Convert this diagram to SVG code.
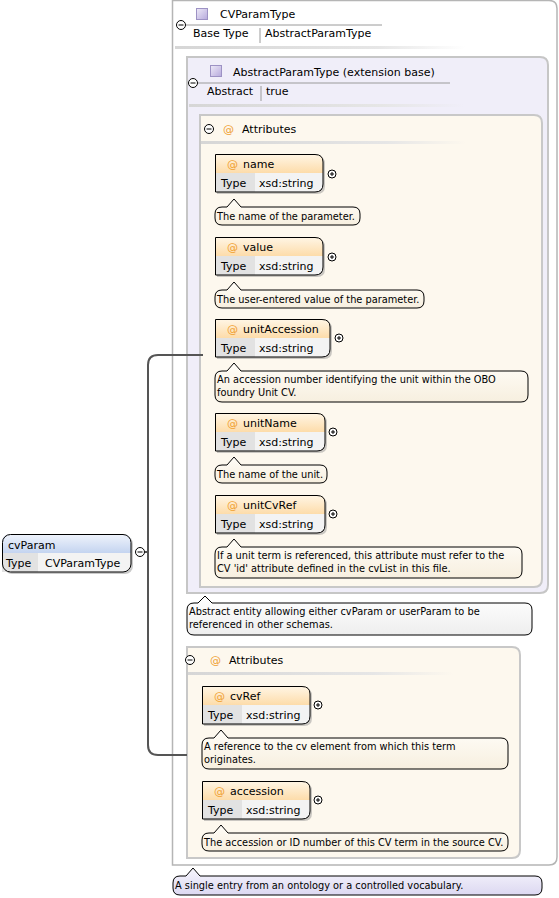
<svg xmlns="http://www.w3.org/2000/svg" width="559" height="898" viewBox="0 0 559 898">
<style>
text{font-family:"DejaVu Sans","Liberation Sans",sans-serif;fill:#000}
.t11{font-size:11px}
.t10{font-size:9.8px}
.at{fill:#f0a030;font-size:11px}
.outline{fill:none;stroke:#000;stroke-width:1}
.shadow{fill:#8a8a8a;opacity:.45}
.ahead{fill:url(#gOrange)}
.tcell{fill:#e2e2e2}
.vcell{fill:#f3f3f3}
.cmt{fill:url(#gCream);stroke:#000;stroke-width:1}
.circ{fill:#fff;stroke:#000;stroke-width:1}
.sign{stroke:#000;stroke-width:1;fill:none}
.conn{fill:none;stroke:#555;stroke-width:2}
.hline{stroke:#9a9a9a;stroke-width:1}
.fade{fill:url(#gFade)}
.sq{fill:url(#gPurple);stroke:#9d92c4;stroke-width:1}
</style>
<defs>
<linearGradient id="gOrange" x1="0" y1="0" x2="0" y2="1"><stop offset="0" stop-color="#fff6e6"/><stop offset="1" stop-color="#fddcaa"/></linearGradient>
<linearGradient id="gBlue" x1="0" y1="0" x2="0" y2="1"><stop offset="0" stop-color="#f0f4fc"/><stop offset="1" stop-color="#c4d4f0"/></linearGradient>
<linearGradient id="gCream" x1="0" y1="0" x2="0" y2="1"><stop offset="0" stop-color="#fffdf8"/><stop offset="1" stop-color="#f7efdf"/></linearGradient>
<linearGradient id="gGray" x1="0" y1="0" x2="0" y2="1"><stop offset="0" stop-color="#ffffff"/><stop offset="1" stop-color="#eeeeee"/></linearGradient>
<linearGradient id="gLav" x1="0" y1="0" x2="0" y2="1"><stop offset="0" stop-color="#f7f6fd"/><stop offset="1" stop-color="#dcd8f1"/></linearGradient>
<linearGradient id="gPurple" x1="0" y1="0" x2="1" y2="1"><stop offset="0" stop-color="#eeeaf8"/><stop offset="1" stop-color="#b6a9dc"/></linearGradient>
<linearGradient id="gFade" x1="0" y1="0" x2="1" y2="0"><stop offset="0" stop-color="#d6d6d6"/><stop offset="0.7" stop-color="#e6e6e6"/><stop offset="1" stop-color="#e6e6e6" stop-opacity="0"/></linearGradient>
</defs>

<!-- CVParamType outer container -->
<g id="CVParamType">
<path d="M172.5 0.5 H549 Q557 0.5 557 8.5 V857 Q557 865 549 865 H172.5 Z" fill="#fff" stroke="#b5b5b5" stroke-width="1.5"/>
<rect class="sq" x="196.5" y="8.5" width="11" height="11"/>
<text class="t11" x="220" y="18">CVParamType</text>
<line class="hline" x1="186" y1="25" x2="382" y2="25"/>
<circle class="circ" cx="181" cy="25" r="4.5"/><line class="sign" x1="178.5" y1="25" x2="183.5" y2="25"/>
<text class="t11" x="193" y="37">Base Type</text>
<line class="hline" x1="260" y1="28" x2="260" y2="43"/>
<text class="t11" x="265" y="37">AbstractParamType</text>
<rect class="fade" x="175" y="46" width="290" height="3"/>
</g>

<g id="AbstractParamType">
<path d="M187 57 H540 Q548 57 548 65 V585 Q548 593 540 593 H187 Z" fill="#f0eef9" stroke="#c6c6c6" stroke-width="2"/>
<rect class="sq" x="210.5" y="65.5" width="11" height="11"/>
<text class="t11" x="233" y="76">AbstractParamType (extension base)</text>
<line class="hline" x1="198" y1="83" x2="450" y2="83"/>
<circle class="circ" cx="193" cy="83" r="4.5"/><line class="sign" x1="190.5" y1="83" x2="195.5" y2="83"/>
<text class="t11" x="207" y="95">Abstract</text>
<line class="hline" x1="261" y1="86" x2="261" y2="101"/>
<text class="t11" x="266" y="95">true</text>
<rect class="fade" x="189" y="104" width="275" height="3"/>
</g>

<g id="Attributes1">
<path d="M200 115 H534 Q542 115 542 123 V579 Q542 587 534 587 H200 Z" fill="#fdf8ee" stroke="#c8c8c8" stroke-width="2"/>
<circle class="circ" cx="209" cy="129" r="4.5"/><line class="sign" x1="206.5" y1="129" x2="211.5" y2="129"/>
<text class="at" x="223" y="133">@</text>
<text class="t11" x="242" y="133">Attributes</text>
<rect class="fade" x="201" y="141" width="265" height="3"/>
</g>

<!-- attribute: name -->
<g id="attr-name">
<path class="shadow" d="M217 156 H317 Q325 156 325 164 V186 Q325 194 317 194 H217 Z"/>
<path class="ahead" d="M215 154 H315 Q323 154 323 162 V173 H215 Z"/>
<rect class="tcell" x="215" y="173" width="40" height="19"/>
<path class="vcell" d="M255 173 H323 V184 Q323 192 315 192 H255 Z"/>
<path class="outline" d="M215.5 154.5 H315 Q323 154.5 323 162 V184 Q323 192 315 192 H215.5 Z"/>
<text class="at" x="227" y="168">@</text>
<text class="t11" x="243" y="168">name</text>
<text class="t11" x="221" y="187">Type</text>
<text class="t11" x="259" y="187">xsd:string</text>
<circle class="circ" cx="332" cy="174" r="4"/><path class="sign" d="M330 174 H334 M332 172 V176"/>
<path class="cmt" d="M222 207 H227 L234 199 L241 207 H353 Q360 207 360 214 V218 Q360 225 353 225 H222 Q215 225 215 218 V214 Q215 207 222 207 Z"/>
<text class="t10" x="217" y="220">The name of the parameter.</text>
</g>

<!-- attribute: value -->
<g id="attr-value">
<path class="shadow" d="M217 239 H317 Q325 239 325 247 V269 Q325 277 317 277 H217 Z"/>
<path class="ahead" d="M215 237 H315 Q323 237 323 245 V256 H215 Z"/>
<rect class="tcell" x="215" y="256" width="40" height="19"/>
<path class="vcell" d="M255 256 H323 V267 Q323 275 315 275 H255 Z"/>
<path class="outline" d="M215.5 237.5 H315 Q323 237.5 323 245 V267 Q323 275 315 275 H215.5 Z"/>
<text class="at" x="227" y="251">@</text>
<text class="t11" x="243" y="251">value</text>
<text class="t11" x="221" y="270">Type</text>
<text class="t11" x="259" y="270">xsd:string</text>
<circle class="circ" cx="332" cy="257" r="4"/><path class="sign" d="M330 257 H334 M332 255 V259"/>
<path class="cmt" d="M222 290 H227 L234 282 L241 290 H417 Q424 290 424 297 V301 Q424 308 417 308 H222 Q215 308 215 301 V297 Q215 290 222 290 Z"/>
<text class="t10" x="217" y="303">The user-entered value of the parameter.</text>
</g>

<!-- attribute: unitAccession -->
<g id="attr-unitAccession">
<path class="shadow" d="M217 321 H324 Q332 321 332 329 V351 Q332 359 324 359 H217 Z"/>
<path class="ahead" d="M215 319 H322 Q330 319 330 327 V338 H215 Z"/>
<rect class="tcell" x="215" y="338" width="40" height="19"/>
<path class="vcell" d="M255 338 H330 V349 Q330 357 322 357 H255 Z"/>
<path class="outline" d="M215.5 319.5 H322 Q330 319.5 330 327 V349 Q330 357 322 357 H215.5 Z"/>
<text class="at" x="227" y="333">@</text>
<text class="t11" x="243" y="333">unitAccession</text>
<text class="t11" x="221" y="352">Type</text>
<text class="t11" x="259" y="352">xsd:string</text>
<circle class="circ" cx="339" cy="338" r="4"/><path class="sign" d="M337 338 H341 M339 336 V340"/>
<path class="cmt" d="M222 371 H227 L234 363 L241 371 H521 Q528 371 528 378 V395 Q528 402 521 402 H222 Q215 402 215 395 V378 Q215 371 222 371 Z"/>
<text class="t10" x="217" y="383">An accession number identifying the unit within the OBO</text>
<text class="t10" x="217" y="396">foundry Unit CV.</text>
</g>

<!-- attribute: unitName -->
<g id="attr-unitName">
<path class="shadow" d="M217 415 H319 Q327 415 327 423 V445 Q327 453 319 453 H217 Z"/>
<path class="ahead" d="M215 413 H317 Q325 413 325 421 V432 H215 Z"/>
<rect class="tcell" x="215" y="432" width="40" height="19"/>
<path class="vcell" d="M255 432 H325 V443 Q325 451 317 451 H255 Z"/>
<path class="outline" d="M215.5 413.5 H317 Q325 413.5 325 421 V443 Q325 451 317 451 H215.5 Z"/>
<text class="at" x="227" y="427">@</text>
<text class="t11" x="243" y="427">unitName</text>
<text class="t11" x="221" y="446">Type</text>
<text class="t11" x="259" y="446">xsd:string</text>
<circle class="circ" cx="333" cy="432" r="4"/><path class="sign" d="M331 432 H335 M333 430 V434"/>
<path class="cmt" d="M222 465 H227 L234 457 L241 465 H320 Q327 465 327 472 V476 Q327 483 320 483 H222 Q215 483 215 476 V472 Q215 465 222 465 Z"/>
<text class="t10" x="217" y="478">The name of the unit.</text>
</g>

<!-- attribute: unitCvRef -->
<g id="attr-unitCvRef">
<path class="shadow" d="M217 497 H319 Q327 497 327 505 V527 Q327 535 319 535 H217 Z"/>
<path class="ahead" d="M215 495 H317 Q325 495 325 503 V514 H215 Z"/>
<rect class="tcell" x="215" y="514" width="40" height="19"/>
<path class="vcell" d="M255 514 H325 V525 Q325 533 317 533 H255 Z"/>
<path class="outline" d="M215.5 495.5 H317 Q325 495.5 325 503 V525 Q325 533 317 533 H215.5 Z"/>
<text class="at" x="227" y="509">@</text>
<text class="t11" x="243" y="509">unitCvRef</text>
<text class="t11" x="221" y="528">Type</text>
<text class="t11" x="259" y="528">xsd:string</text>
<circle class="circ" cx="333" cy="514" r="4"/><path class="sign" d="M331 514 H335 M333 512 V516"/>
<path class="cmt" d="M222 547 H227 L234 539 L241 547 H515 Q522 547 522 554 V571 Q522 578 515 578 H222 Q215 578 215 571 V554 Q215 547 222 547 Z"/>
<text class="t10" x="217" y="559">If a unit term is referenced, this attribute must refer to the</text>
<text class="t10" x="217" y="572">CV 'id' attribute defined in the cvList in this file.</text>
</g>

<g id="comment-abstract">
<path d="M194 603 H198 L205 596 L212 603 H525 Q532 603 532 610 V628 Q532 635 525 635 H194 Q187 635 187 628 V610 Q187 603 194 603 Z" fill="url(#gGray)" stroke="#000" stroke-width="1"/>
<text class="t10" x="189" y="615">Abstract entity allowing either cvParam or userParam to be</text>
<text class="t10" x="189" y="628">referenced in other schemas.</text>
</g>

<g id="Attributes2">
<path d="M187 647 H512 Q520 647 520 655 V850 Q520 858 512 858 H187 Z" fill="#fdf8ee" stroke="#c8c8c8" stroke-width="2"/>
<circle class="circ" cx="190" cy="660" r="4.5"/><line class="sign" x1="187.5" y1="660" x2="192.5" y2="660"/>
<text class="at" x="210" y="664">@</text>
<text class="t11" x="229" y="664">Attributes</text>
<rect class="fade" x="188" y="672" width="265" height="3"/>
</g>

<!-- attribute: cvRef -->
<g id="attr-cvRef">
<path class="shadow" d="M204 688 H304 Q312 688 312 696 V718 Q312 726 304 726 H204 Z"/>
<path class="ahead" d="M202 686 H302 Q310 686 310 694 V705 H202 Z"/>
<rect class="tcell" x="202" y="705" width="40" height="19"/>
<path class="vcell" d="M242 705 H310 V716 Q310 724 302 724 H242 Z"/>
<path class="outline" d="M202.5 686.5 H302 Q310 686.5 310 694 V716 Q310 724 302 724 H202.5 Z"/>
<text class="at" x="214" y="700">@</text>
<text class="t11" x="230" y="700">cvRef</text>
<text class="t11" x="208" y="719">Type</text>
<text class="t11" x="246" y="719">xsd:string</text>
<circle class="circ" cx="318" cy="705" r="4"/><path class="sign" d="M316 705 H320 M318 703 V707"/>
<path class="cmt" d="M209 738 H214 L221 730 L228 738 H501 Q508 738 508 745 V762 Q508 769 501 769 H209 Q202 769 202 762 V745 Q202 738 209 738 Z"/>
<text class="t10" x="204" y="750">A reference to the cv element from which this term</text>
<text class="t10" x="204" y="763">originates.</text>
</g>

<!-- attribute: accession -->
<g id="attr-accession">
<path class="shadow" d="M204 783 H304 Q312 783 312 791 V813 Q312 821 304 821 H204 Z"/>
<path class="ahead" d="M202 781 H302 Q310 781 310 789 V800 H202 Z"/>
<rect class="tcell" x="202" y="800" width="40" height="19"/>
<path class="vcell" d="M242 800 H310 V811 Q310 819 302 819 H242 Z"/>
<path class="outline" d="M202.5 781.5 H302 Q310 781.5 310 789 V811 Q310 819 302 819 H202.5 Z"/>
<text class="at" x="214" y="795">@</text>
<text class="t11" x="230" y="795">accession</text>
<text class="t11" x="208" y="814">Type</text>
<text class="t11" x="246" y="814">xsd:string</text>
<circle class="circ" cx="318" cy="800" r="4"/><path class="sign" d="M316 800 H320 M318 798 V802"/>
<path class="cmt" d="M209 833 H214 L221 825 L228 833 H501 Q508 833 508 840 V844 Q508 851 501 851 H209 Q202 851 202 844 V840 Q202 833 209 833 Z"/>
<text class="t10" x="204" y="846">The accession or ID number of this CV term in the source CV.</text>
</g>

<g id="comment-cvParamType">
<path d="M180 876 H186 L193 868 L200 876 H535 Q542 876 542 883 V888 Q542 895 535 895 H180 Q173 895 173 888 V883 Q173 876 180 876 Z" fill="url(#gLav)" stroke="#000" stroke-width="1"/>
<text class="t10" x="175" y="889">A single entry from an ontology or a controlled vocabulary.</text>
</g>

<!-- connectors -->
<g id="connectors">
<path class="conn" d="M203 355 H158 Q148 355 148 365 V745 Q148 755 158 755 H187"/>
<path class="conn" d="M145 552 H148"/>
</g>

<!-- cvParam element -->
<g id="cvParam">
<rect x="4" y="536" width="129" height="38" rx="8" fill="#8a8a8a" opacity=".45"/>
<path d="M10 534 H123 Q131 534 131 542 V553 H2 V542 Q2 534 10 534 Z" fill="url(#gBlue)"/>
<rect class="tcell" x="2" y="553" width="36" height="19"/>
<path class="vcell" d="M38 553 H131 V564 Q131 572 123 572 H38 Z"/>
<path d="M2 553 V564 Q2 572 10 572 H38 V553 Z" class="tcell"/>
<rect x="2.5" y="534.5" width="128.5" height="37.5" rx="8" fill="none" stroke="#000" stroke-width="1"/>
<text class="t11" x="8" y="549">cvParam</text>
<text class="t11" x="6" y="567">Type</text>
<text class="t11" x="45" y="567">CVParamType</text>
<circle class="circ" cx="140" cy="552" r="4.5"/><line class="sign" x1="137.5" y1="552" x2="142.5" y2="552"/>
</g>
</svg>
